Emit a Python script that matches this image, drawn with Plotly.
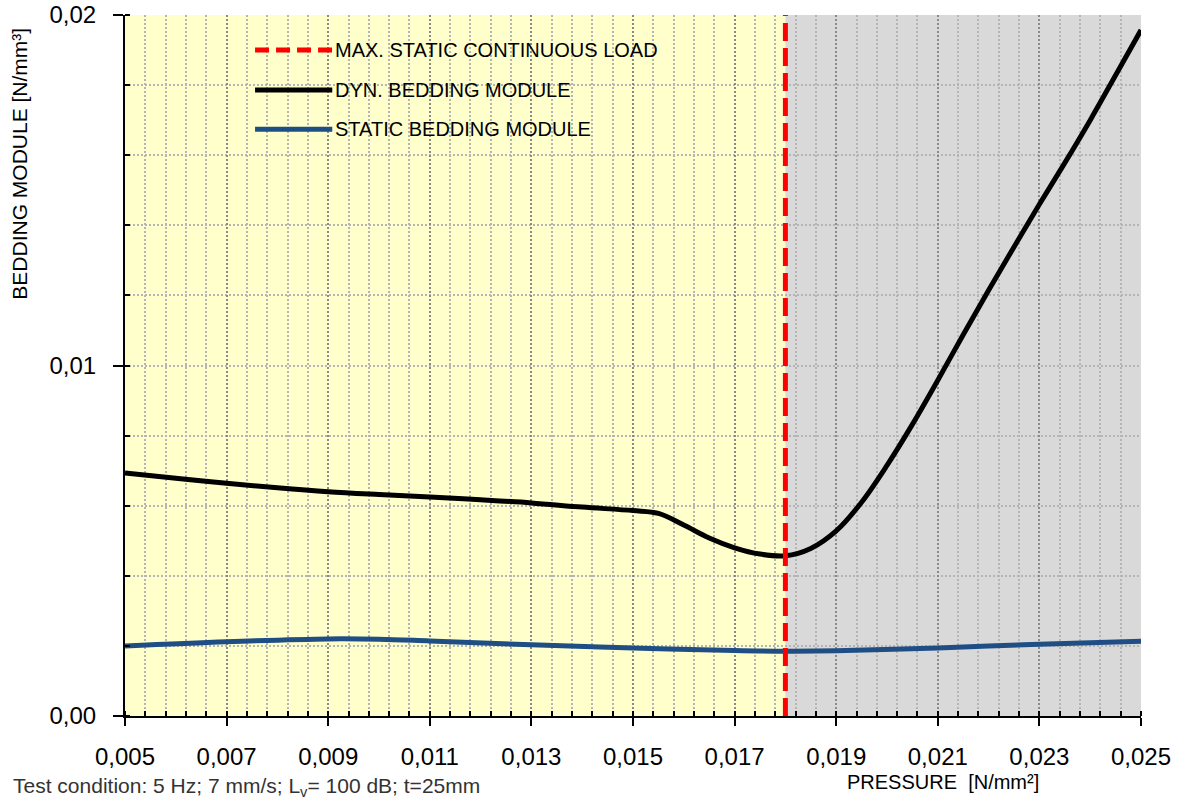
import plotly.graph_objects as go

# Pressure [N/mm²] and bedding modules [N/mm³]
dyn_pressure = [0.005, 0.006, 0.007, 0.008, 0.009, 0.010, 0.011, 0.012, 0.013, 0.014,
                0.015, 0.0155, 0.016, 0.0165, 0.017, 0.0175, 0.018, 0.0185, 0.019,
                0.0195, 0.020, 0.0205, 0.021, 0.0215, 0.022, 0.0225, 0.023, 0.0235,
                0.024, 0.0245, 0.025]
dyn_module = [0.00693, 0.00678, 0.00664, 0.00651, 0.00640, 0.00632, 0.00625, 0.00617,
              0.00608, 0.00596, 0.00586, 0.00578, 0.00545, 0.00508, 0.00480, 0.00462,
              0.00457, 0.00478, 0.00528, 0.00610, 0.00715, 0.00832, 0.00958, 0.01088,
              0.01215, 0.01338, 0.01460, 0.01578, 0.01700, 0.01828, 0.01957]

static_pressure = [0.005, 0.007, 0.009, 0.010, 0.011, 0.013, 0.015, 0.017, 0.018,
                   0.019, 0.021, 0.023, 0.025]
static_module = [0.00200, 0.00212, 0.00220, 0.00219, 0.00214, 0.00203, 0.00194,
                 0.00187, 0.00185, 0.00186, 0.00194, 0.00205, 0.00213]

max_static_load = 0.018
x_range = [0.005, 0.025]
y_range = [0.0, 0.02]

legend_labels = ["MAX. STATIC CONTINUOUS LOAD", "DYN. BEDDING MODULE", "STATIC BEDDING MODULE"]
axis_x_title = "PRESSURE  [N/mm²]"
axis_y_title = "BEDDING MODULE [N/mm³]"
footnote = "Test condition: 5 Hz; 7 mm/s; L<sub>v</sub>= 100 dB; t=25mm"

RED = "#FF0000"
BLACK = "#000000"
BLUE = "#1F4E85"
FONT = "Liberation Sans, Arial, sans-serif"

fig = go.Figure()

fig.add_trace(go.Scatter(
    x=static_pressure, y=static_module, mode="lines",
    line=dict(color=BLUE, width=5, shape="spline", smoothing=1.0),
    showlegend=False, hoverinfo="skip"))

fig.add_trace(go.Scatter(
    x=dyn_pressure, y=dyn_module, mode="lines",
    line=dict(color=BLACK, width=5, shape="spline", smoothing=1.0),
    showlegend=False, hoverinfo="skip"))

fig.add_trace(go.Scatter(
    x=[max_static_load, max_static_load], y=y_range, mode="lines",
    line=dict(color=RED, width=5, dash="18px,7px"),
    showlegend=False, hoverinfo="skip", cliponaxis=False))

# Background zones: below / above the maximum static continuous load
fig.add_shape(type="rect", xref="x", yref="y", x0=x_range[0], x1=max_static_load,
              y0=y_range[0], y1=y_range[1], fillcolor="#FFFFCC", line_width=0, layer="below")
fig.add_shape(type="rect", xref="x", yref="y", x0=max_static_load, x1=x_range[1],
              y0=y_range[0], y1=y_range[1], fillcolor="#D9D9D9", line_width=0, layer="below")

# Hand-built legend
legend_styles = [dict(color=RED, width=5, dash="14px,7px"),
                 dict(color=BLACK, width=5),
                 dict(color=BLUE, width=5)]
legend_y = [0.950, 0.893, 0.837]
for label, style, ly in zip(legend_labels, legend_styles, legend_y):
    fig.add_shape(type="line", xref="paper", yref="paper", x0=0.128, x1=0.204,
                  y0=ly, y1=ly, line=style, layer="above")
    fig.add_annotation(xref="paper", yref="paper", x=0.205, y=ly, text=label,
                       showarrow=False, xanchor="left", yanchor="middle",
                       font=dict(family=FONT, size=20, color=BLACK))

fig.add_annotation(xref="paper", yref="paper", x=0.805, y=-0.094, text=axis_x_title,
                   showarrow=False, xanchor="center", yanchor="middle",
                   font=dict(family=FONT, size=20, color=BLACK))
fig.add_annotation(xref="paper", yref="paper", x=-0.1033, y=0.788, text=axis_y_title,
                   showarrow=False, textangle=-90, xanchor="center", yanchor="middle",
                   font=dict(family=FONT, size=21, color=BLACK))
fig.add_annotation(xref="paper", yref="paper", x=-0.112, y=-0.101, text=footnote,
                   showarrow=False, xanchor="left", yanchor="middle",
                   font=dict(family=FONT, size=21, color="#333333"))

fig.update_xaxes(
    range=x_range, dtick=0.002, tick0=0.005, tickformat=".3f",
    showline=True, linecolor=BLACK, linewidth=2, mirror=False,
    ticks="outside", ticklen=8, tickwidth=2, tickcolor=BLACK,
    ticklabelstandoff=10, automargin=False,
    tickfont=dict(family=FONT, size=24, color=BLACK),
    showgrid=True, gridcolor="#8A8A8A", gridwidth=1.5, griddash="2px,2px",
    zeroline=False,
    minor=dict(dtick=0.0004, tick0=0.005, ticks="inside", ticklen=5, tickwidth=2,
               tickcolor=BLACK, showgrid=True, gridcolor="#B5B5B5", gridwidth=1.5,
               griddash="2px,2px"),
)
fig.update_yaxes(
    range=y_range, dtick=0.01, tick0=0, tickformat=".2f",
    showline=True, linecolor=BLACK, linewidth=2, mirror=False,
    ticks="outside", ticklen=10, tickwidth=2, tickcolor=BLACK,
    ticklabelstandoff=12, automargin=False,
    tickfont=dict(family=FONT, size=24, color=BLACK),
    showgrid=True, gridcolor="#B5B5B5", gridwidth=1.5, griddash="2px,2px",
    zeroline=False,
    minor=dict(dtick=0.002, tick0=0, ticks="inside", ticklen=5, tickwidth=2,
               tickcolor=BLACK, showgrid=True, gridcolor="#B5B5B5", gridwidth=1.5,
               griddash="2px,2px"),
)

fig.update_layout(
    width=1191, height=800,
    margin=dict(l=125, r=50, t=15, b=84, autoexpand=False),
    paper_bgcolor="white", plot_bgcolor="white",
    separators=",.",
    showlegend=False,
    font=dict(family=FONT, color=BLACK),
)

fig.write_html("out.html")
